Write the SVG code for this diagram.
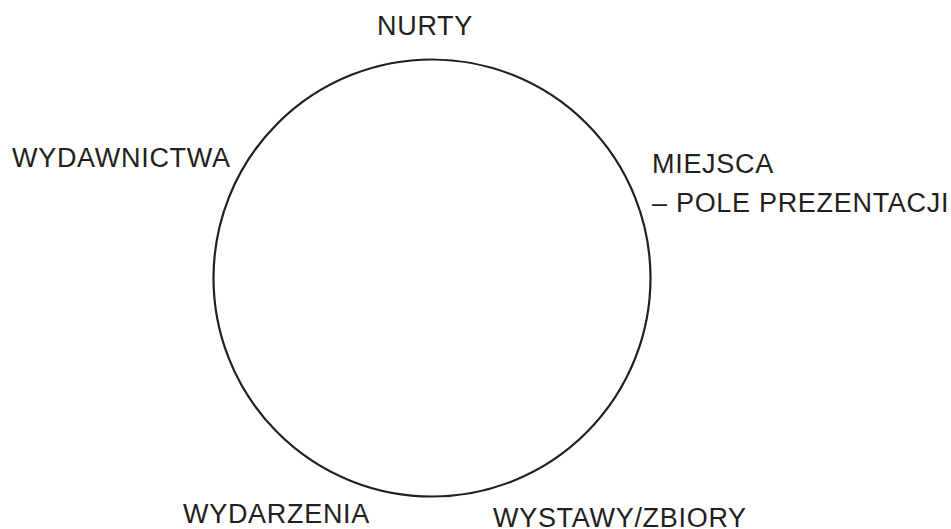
<svg xmlns="http://www.w3.org/2000/svg" width="951" height="529" viewBox="0 0 951 529">
<style>
.lbl{font-family:"Liberation Sans",Arial,sans-serif;font-size:27px;letter-spacing:0.7px;fill:#231f20}
.ring{fill:none;stroke:#231f20;stroke-width:2.2}
</style>
<rect width="951" height="529" fill="#ffffff"/>
<g id="circle"><circle class="ring" cx="432" cy="278" r="218.5"/></g>
<g id="nurty"><text class="lbl" x="377" y="35">NURTY</text></g>
<g id="wydawnictwa"><text class="lbl" x="12" y="167">WYDAWNICTWA</text></g>
<g id="miejsca"><text class="lbl" x="652" y="173">MIEJSCA</text><text class="lbl" x="652" y="212">– POLE PREZENTACJI</text></g>
<g id="wydarzenia"><text class="lbl" x="183" y="523">WYDARZENIA</text></g>
<g id="wystawy"><text class="lbl" x="493" y="527">WYSTAWY/ZBIORY</text></g>
<g id="connectors"></g>
</svg>
